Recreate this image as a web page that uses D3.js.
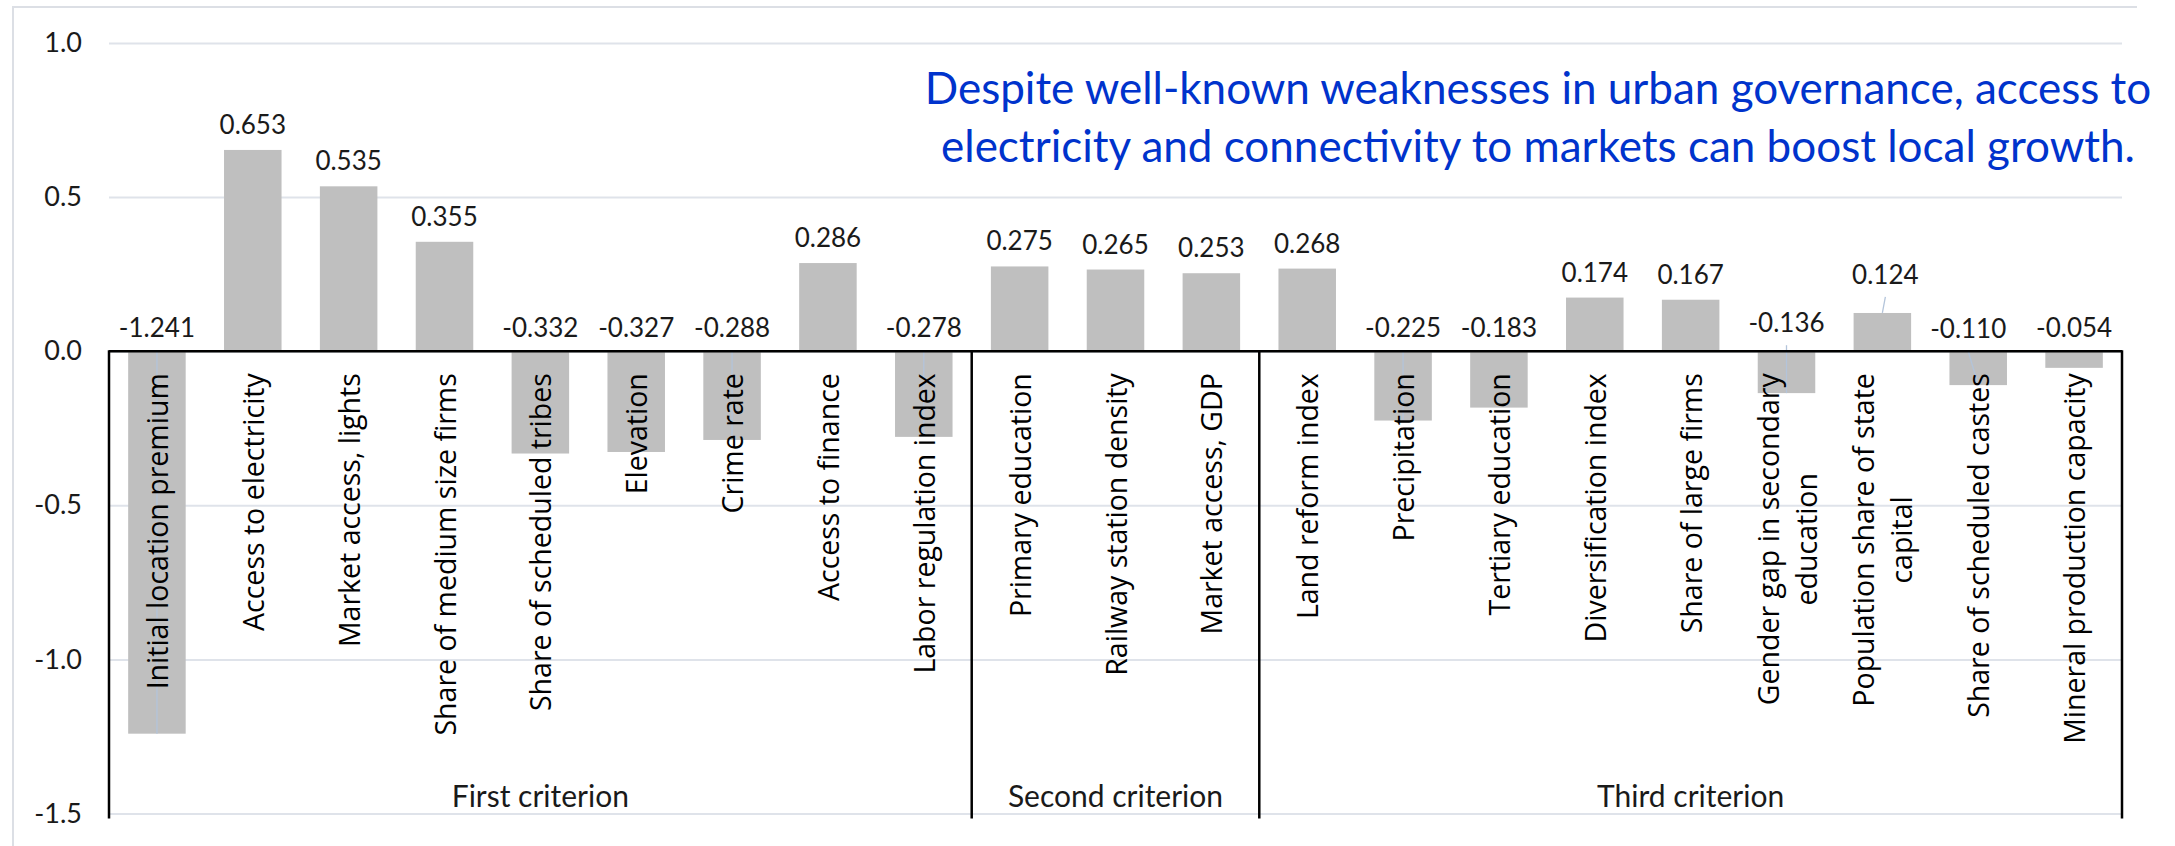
<!DOCTYPE html>
<html>
<head>
<meta charset="utf-8">
<script src="https://cdn.jsdelivr.net/npm/d3@7"></script>
<style>
  html, body { margin: 0; padding: 0; background: #ffffff; }
  svg { display: block; }
</style>
</head>
<body>
<svg id="chart" width="2175" height="846"></svg>
<script>
// Coefficients of each local-growth driver, grouped by selection criterion
const categories = [
  "Initial location premium", "Access to electricity", "Market access, lights",
  "Share of medium size firms", "Share of scheduled tribes", "Elevation", "Crime rate",
  "Access to finance", "Labor regulation index",
  "Primary education", "Railway station density", "Market access, GDP",
  "Land reform index", "Precipitation", "Tertiary education", "Diversification index",
  "Share of large firms", "Gender gap in secondary education",
  "Population share of state capital", "Share of scheduled castes", "Mineral production capacity"
];
const values = [
  -1.241, 0.653, 0.535, 0.355, -0.332, -0.327, -0.288, 0.286, -0.278,
  0.275, 0.265, 0.253,
  0.268, -0.225, -0.183, 0.174, 0.167, -0.136, 0.124, -0.110, -0.054
];
const groupNames = ["First criterion", "Second criterion", "Third criterion"];
const groupSizes = [9, 3, 9];
const yTicks = [1.0, 0.5, 0.0, -0.5, -1.0, -1.5];
const yTickLabels = ["1.0", "0.5", "0.0", "-0.5", "-1.0", "-1.5"];
const titleLines = [
  "Despite well-known weaknesses in urban governance, access to",
  "electricity and connectivity to markets can boost local growth."
];

// Category names that wrap onto two lines
const wrappedNames = {
  "Gender gap in secondary education": ["Gender gap in secondary", "education"],
  "Population share of state capital": ["Population share of state", "capital"]
};
// Value labels that were moved away from their bar and keep a leader line
const leaderLabels = [
  "Initial location premium", "Crime rate", "Labor regulation index", "Precipitation",
  "Gender gap in secondary education", "Population share of state capital",
  "Share of scheduled castes"
];
// Label nudges in pixels [dx, dy]
const labelNudge = {
  "Gender gap in secondary education": [0, -5],
  "Population share of state capital": [3, -13],
  "Share of scheduled castes": [-10, 1]
};

const svg = d3.select("#chart");
const W = 2175, H = 846;
const plotLeft = 109, plotRight = 2122, plotTop = 43, plotBottom = 813.5;

const x = d3.scaleBand()
  .domain(categories)
  .range([plotLeft, plotRight])
  .paddingInner(0.4)
  .paddingOuter(0.2);

const y = d3.scaleLinear()
  .domain([-1.5, 1.0])
  .range([plotBottom, plotTop]);

const data = categories.map((c, i) => ({ cat: c, value: values[i] }));
const y0 = y(0);
const halfGap = (x.step() - x.bandwidth()) / 2;

// Chart-area frame (only top and left edges fall inside the canvas)
svg.append("path")
  .attr("d", `M13,${H} V7 H2137`)
  .attr("fill", "none")
  .attr("stroke", "#dcdfe5")
  .attr("stroke-width", 2);

// Horizontal gridlines
svg.append("g")
  .attr("transform", `translate(${plotLeft},0)`)
  .call(d3.axisLeft(y).tickValues(yTicks).tickSize(-(plotRight - plotLeft)).tickFormat(""))
  .call(g => g.select(".domain").remove())
  .call(g => g.selectAll("line").attr("stroke", "#dfe3ea").attr("stroke-width", 2));

// Y tick labels
svg.append("g")
  .attr("transform", `translate(${plotLeft},0)`)
  .call(d3.axisLeft(y).tickValues(yTicks).tickSize(0).tickPadding(27)
    .tickFormat((d, i) => yTickLabels[i]))
  .call(g => g.select(".domain").remove())
  .call(g => g.selectAll("text")
    .attr("font-family", "Lato, sans-serif")
    .attr("font-size", 27)
    .attr("fill", "#1a1a1a"));

// Bars
svg.append("g")
  .selectAll("rect")
  .data(data)
  .join("rect")
  .attr("x", d => x(d.cat))
  .attr("width", x.bandwidth())
  .attr("y", d => Math.min(y(d.value), y0))
  .attr("height", d => Math.abs(y(d.value) - y0))
  .attr("fill", "#bfbfbf");

// Value label placement
function labelPos(d) {
  const cx = x(d.cat) + x.bandwidth() / 2;
  const nudge = labelNudge[d.cat] || [0, 0];
  const base = d.value >= 0 ? y(d.value) - 16 : y0 - 14;
  return [cx + nudge[0], base + nudge[1]];
}

// Leader lines
svg.append("g")
  .selectAll("line")
  .data(data.filter(d => leaderLabels.includes(d.cat)))
  .join("line")
  .attr("x1", d => labelPos(d)[0])
  .attr("y1", d => labelPos(d)[1] + 13)
  .attr("x2", d => x(d.cat) + x.bandwidth() / 2)
  .attr("y2", d => y(d.value))
  .attr("stroke", "#b3c4da")
  .attr("stroke-width", 1.3);

// Zero line and criterion dividers
const axisG = svg.append("g").attr("stroke", "#000").attr("stroke-width", 2.5);
axisG.append("line")
  .attr("x1", plotLeft).attr("x2", plotRight)
  .attr("y1", y0).attr("y2", y0);
let start = 0;
const boundaries = [plotLeft];
groupSizes.forEach(n => {
  start += n;
  boundaries.push(start < categories.length ? x(categories[start]) - halfGap : plotRight);
});
axisG.selectAll("line.div")
  .data(boundaries)
  .join("line")
  .attr("class", "div")
  .attr("x1", d => d).attr("x2", d => d)
  .attr("y1", y0 - 1).attr("y2", plotBottom + 5);

// Value labels
svg.append("g")
  .selectAll("text")
  .data(data)
  .join("text")
  .attr("x", d => labelPos(d)[0])
  .attr("y", d => labelPos(d)[1])
  .attr("text-anchor", "middle")
  .attr("font-family", "Lato, sans-serif")
  .attr("font-size", 26)
  .attr("fill", "#1a1a1a")
  .text(d => d.value.toFixed(3));

// Rotated category labels, ending just below the zero line
const labelTop = y0 + 22;
const catG = svg.append("g")
  .attr("font-family", "'Open Sans', sans-serif")
  .attr("font-size", 28.5)
  .attr("fill", "#000");
data.forEach(d => {
  const cx = x(d.cat) + x.bandwidth() / 2;
  const lines = wrappedNames[d.cat] || [d.cat];
  const lineH = 38;
  const t = catG.append("text")
    .attr("transform", `translate(${cx},${labelTop}) rotate(-90)`)
    .attr("dominant-baseline", "central");
  const spans = lines.map((s, i) => t.append("tspan")
    .attr("x", 0)
    .attr("y", (i - (lines.length - 1) / 2) * lineH)
    .text(s));
  if (lines.length === 1) {
    t.attr("text-anchor", "end");
  } else {
    const maxLen = d3.max(spans, s => s.node().getComputedTextLength());
    t.attr("text-anchor", "middle");
    spans.forEach(s => s.attr("x", -maxLen / 2));
  }
});

// Criterion names along the bottom of each section
svg.append("g")
  .selectAll("text")
  .data(groupNames)
  .join("text")
  .attr("x", (d, i) => (boundaries[i] + boundaries[i + 1]) / 2)
  .attr("y", 807)
  .attr("text-anchor", "middle")
  .attr("font-family", "Lato, sans-serif")
  .attr("font-size", 30)
  .attr("fill", "#1a1a1a")
  .text(d => d);

// Headline message
svg.append("g")
  .selectAll("text")
  .data(titleLines)
  .join("text")
  .attr("x", 1538)
  .attr("y", (d, i) => 104 + i * 58)
  .attr("text-anchor", "middle")
  .attr("font-family", "Lato, sans-serif")
  .attr("font-size", 44)
  .attr("fill", "#0033cc")
  .text(d => d);
</script>
</body>
</html>
